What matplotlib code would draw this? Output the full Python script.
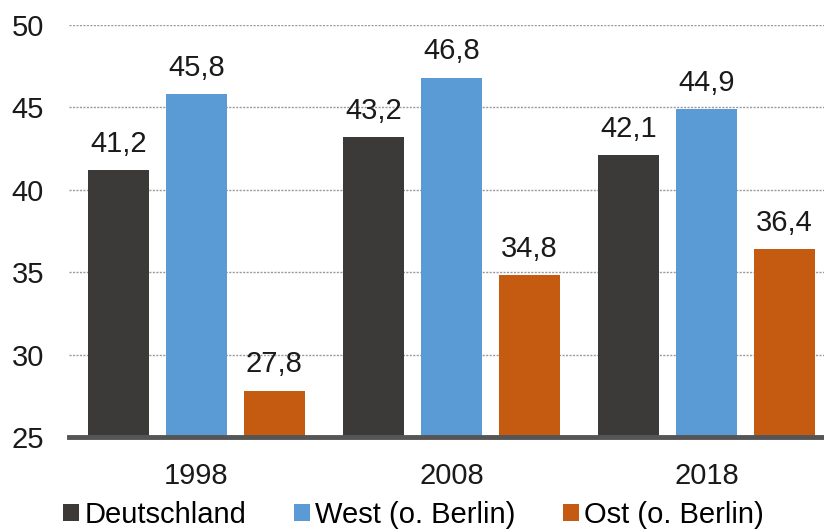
import matplotlib.pyplot as plt
import numpy as np

plt.rcParams['font.family'] = ['Liberation Sans', 'DejaVu Sans']

years = ['1998', '2008', '2018']
series = ['Deutschland', 'West (o. Berlin)', 'Ost (o. Berlin)']
deutschland = [41.2, 43.2, 42.1]
west = [45.8, 46.8, 44.9]
ost = [27.8, 34.8, 36.4]
colors = ['#3b3a38', '#5b9bd5', '#c55a11']
base = 25

fig = plt.figure(figsize=(8.24, 5.32), dpi=100)
ax = fig.add_axes([0.0837, 0.1786, 0.9163, 0.7744])

x = np.arange(len(years))
width = 0.24
step = 0.305
for i, (vals, name) in enumerate(zip([deutschland, west, ost], series)):
    pos = x + (i - 1) * step
    heights = [v - base for v in vals]
    bars = ax.bar(pos, heights, width, bottom=base, color=colors[i], label=name, zorder=3)
    for b, v in zip(bars, vals):
        ax.annotate(f'{v:.1f}'.replace('.', ','), (b.get_x() + b.get_width() / 2, v),
                    xytext=(0, 9), textcoords='offset points',
                    ha='center', va='bottom', fontsize=21, color='#1a1a1a')

ax.set_ylim(25, 50)
ax.set_xlim(-0.5, 2.46)
ax.set_yticks([25, 30, 35, 40, 45, 50])
ax.set_xticks(x)
ax.set_xticklabels(years)
ax.tick_params(axis='both', length=0, labelsize=21, colors='#1a1a1a')
ax.tick_params(axis='x', pad=18)
ax.tick_params(axis='y', pad=18)

ax.yaxis.grid(True, linestyle=(0, (1.5, 1)), color='#9a9a9a', linewidth=1, zorder=0)
for s in ['top', 'right', 'left']:
    ax.spines[s].set_visible(False)
ax.spines['bottom'].set_color('#555555')
ax.spines['bottom'].set_linewidth(3.5)
ax.spines['bottom'].set_zorder(4)

fig.legend(loc='lower center', bbox_to_anchor=(0.502, -0.016), ncol=3, frameon=False,
           fontsize=21, handlelength=0.55, handleheight=0.55, handletextpad=0.2,
           columnspacing=1.6, borderaxespad=0)

fig.savefig('out.png', dpi=100)
